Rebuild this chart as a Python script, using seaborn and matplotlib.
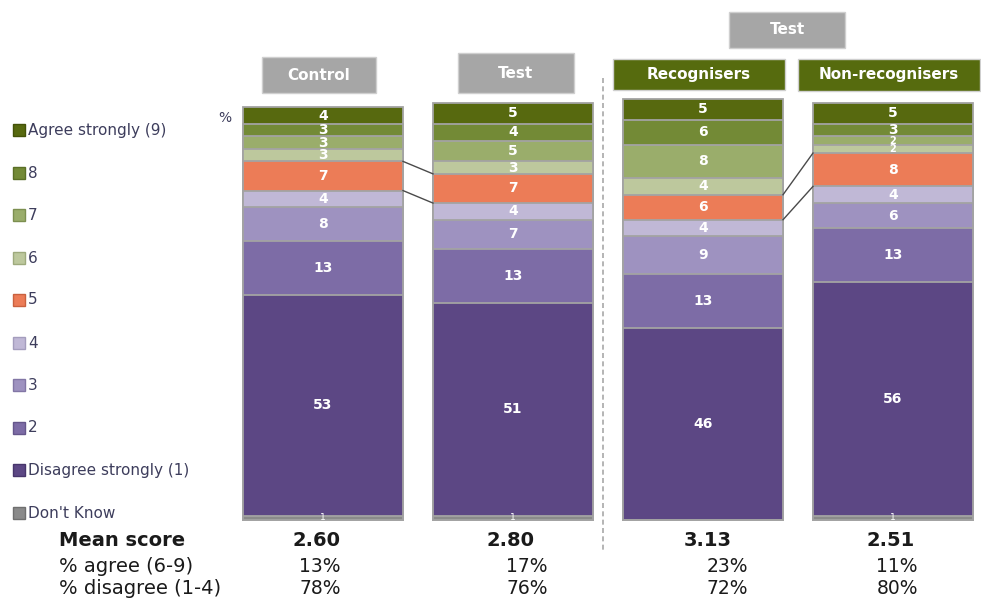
import numpy as np
import pandas as pd
import matplotlib
matplotlib.use("Agg")
import matplotlib.pyplot as plt
from matplotlib.patches import Rectangle
from matplotlib.lines import Line2D
import seaborn as sns

# ---- data -------------------------------------------------------------
groups = ["Control", "Test", "Recognisers", "Non-recognisers"]
levels = ["Don't Know", "Disagree strongly (1)", "2", "3", "4", "5", "6", "7", "8", "Agree strongly (9)"]

# shares (%) per group, bottom (Don't Know) to top (Agree strongly)
control = [1, 53, 13, 8, 4, 7, 3, 3, 3, 4]
test = [1, 51, 13, 7, 4, 7, 3, 5, 4, 5]
recognisers = [0, 46, 13, 9, 4, 6, 4, 8, 6, 5]
non_recognisers = [1, 56, 13, 6, 4, 8, 2, 2, 3, 5]

mean_scores = ["2.60", "2.80", "3.13", "2.51"]
pct_agree = ["13%", "17%", "23%", "11%"]
pct_disagree = ["78%", "76%", "72%", "80%"]

colors = ["#8a8a8a", "#5c4784", "#7d6ca6", "#9e92c0", "#c0b8d6",
          "#ec7c57", "#bdc89d", "#9aad6b", "#738a36", "#57690f"]
edge_colors = ["#6f6f6f", "#47356b", "#65568b", "#8276a5", "#a49dbd",
               "#c9613f", "#9eaa7d", "#7c8f50", "#5a6f25", "#435208"]

values = np.array([control, test, recognisers, non_recognisers])
cum_top = values.cumsum(axis=1)
cum_bot = cum_top - values

rows = []
for gi, g in enumerate(groups):
    for li, lev in enumerate(levels):
        rows.append({"group": g, "level": lev, "value": values[gi, li],
                     "top": cum_top[gi, li]})
df = pd.DataFrame(rows)

# ---- figure -----------------------------------------------------------
W, H = 981, 601
fig = plt.figure(figsize=(W / 100, H / 100), dpi=100)
fig.patch.set_facecolor("white")


def fx(px):
    return px / W


def fy(py):
    return 1 - py / H


bar_w = 160 / 190
ax = fig.add_axes([fx(243), fy(520), (973 - 243) / W, (520 - 103) / H])

# stacked bars: draw cumulative heights from the top level downwards
for li in range(len(levels) - 1, -1, -1):
    sub = df[df["level"] == levels[li]]
    sns.barplot(data=sub, x="group", y="top", order=groups, color=colors[li],
                saturation=1, width=bar_w, edgecolor="#a3a3a3", linewidth=1.3,
                errorbar=None, ax=ax)

for p in ax.patches:
    p.set_clip_on(False)

ax.set_xlim(-bar_w / 2, 3 + bar_w / 2)
ax.set_ylim(0, 100)
ax.axis("off")

# segment value labels
for gi in range(len(groups)):
    for li in range(len(levels)):
        v = values[gi, li]
        if v <= 0:
            continue
        y = cum_bot[gi, li] + v / 2
        if li == 0:
            fs, fw = 6.5, "normal"
        elif v <= 2:
            fs, fw = 7, "bold"
        else:
            fs, fw = 10, "bold"
        ax.text(gi, y, str(v), ha="center", va="center", color="white",
                fontsize=fs, fontweight=fw, clip_on=False)

# connectors between the neutral (5) segments
li5 = levels.index("5")
for a, b in [(0, 1), (2, 3)]:
    for yy in [(cum_top[a, li5], cum_top[b, li5]), (cum_bot[a, li5], cum_bot[b, li5])]:
        ax.plot([a + bar_w / 2, b - bar_w / 2], list(yy), color="#4a4a4a",
                lw=1.0, clip_on=False)

# ---- header boxes -----------------------------------------------------
headers = [
    ("Control", 262, 57, 376, 93, "#a6a6a6"),
    ("Test", 458, 53, 574, 93, "#a6a6a6"),
    ("Test", 729, 12, 845, 48, "#a6a6a6"),
    ("Recognisers", 613, 59, 785, 90, "#566b0e"),
    ("Non-recognisers", 798, 59, 980, 91, "#566b0e"),
]
for label, x0, y0, x1, y1, c in headers:
    fig.add_artist(Rectangle((fx(x0), fy(y1)), (x1 - x0) / W, (y1 - y0) / H,
                             transform=fig.transFigure, facecolor=c,
                             edgecolor="#cfcfcf", linewidth=1.0))
    fig.text(fx((x0 + x1) / 2), fy((y0 + y1) / 2), label, ha="center",
             va="center", color="white", fontsize=11, fontweight="bold")

# dashed divider between the total and the split of the test cell
fig.add_artist(Line2D([fx(603), fx(603)], [fy(78), fy(553)],
                      transform=fig.transFigure, color="#a8a8a8", lw=1.2,
                      linestyle=(0, (3, 2))))

fig.text(fx(225), fy(118), "%", ha="center", va="center", color="#3d3d5c",
         fontsize=10)

# ---- legend -----------------------------------------------------------
legend_y = [130, 173, 215, 258, 300, 343, 385, 428, 470, 513]
for i, y in enumerate(legend_y):
    li = len(levels) - 1 - i
    fig.add_artist(Rectangle((fx(13), fy(y + 6)), 12 / W, 12 / H,
                             transform=fig.transFigure, facecolor=colors[li],
                             edgecolor=edge_colors[li], linewidth=1.0))
    fig.text(fx(28), fy(y), levels[li], ha="left", va="center",
             color="#3d3d5c", fontsize=11)

# ---- summary rows -----------------------------------------------------
fig.text(fx(59), fy(540), "Mean score", ha="left", va="center",
         color="#1a1a1a", fontsize=14, fontweight="bold")
fig.text(fx(59), fy(567), "% agree (6-9)", ha="left", va="center",
         color="#1a1a1a", fontsize=14)
fig.text(fx(59), fy(588), "% disagree (1-4)", ha="left", va="center",
         color="#1a1a1a", fontsize=14)

mean_x = [317, 511, 708, 891]
pct_x = [320, 527, 727, 897]
for i in range(len(groups)):
    fig.text(fx(mean_x[i]), fy(540), mean_scores[i], ha="center", va="center",
             color="#1a1a1a", fontsize=14, fontweight="bold")
    fig.text(fx(pct_x[i]), fy(567), pct_agree[i], ha="center", va="center",
             color="#1a1a1a", fontsize=13.5)
    fig.text(fx(pct_x[i]), fy(588), pct_disagree[i], ha="center", va="center",
             color="#1a1a1a", fontsize=13.5)

fig.savefig("out.png", dpi=100, facecolor="white")
